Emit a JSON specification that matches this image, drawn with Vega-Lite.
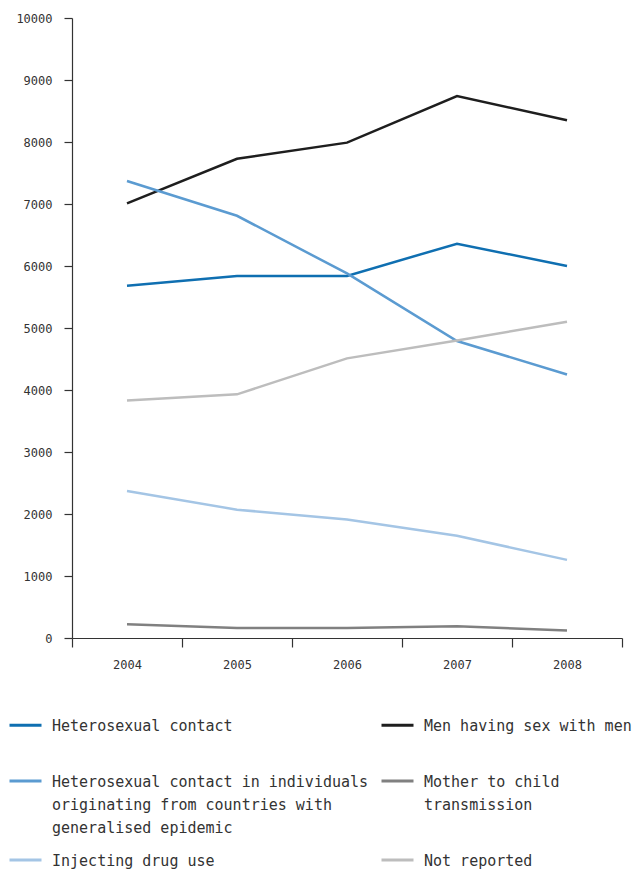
{
  "$schema": "https://vega.github.io/schema/vega-lite/v6.json",
  "width": 550,
  "height": 620,
  "autosize": {"type": "none"},
  "padding": {"left": 72, "top": 18, "right": 20, "bottom": 232},
  "background": "white",
  "config": {
    "view": {"stroke": null},
    "font": "DejaVu Sans Mono",
    "style": {"guide-label": {"lineHeight": 23}}
  },
  "data": {
    "values": [
      {"year": "2004", "category": "Heterosexual contact", "cases": 5680},
      {"year": "2005", "category": "Heterosexual contact", "cases": 5840},
      {"year": "2006", "category": "Heterosexual contact", "cases": 5840},
      {"year": "2007", "category": "Heterosexual contact", "cases": 6360},
      {"year": "2008", "category": "Heterosexual contact", "cases": 6000},
      {"year": "2004", "category": "Men having sex with men", "cases": 7010},
      {"year": "2005", "category": "Men having sex with men", "cases": 7730},
      {"year": "2006", "category": "Men having sex with men", "cases": 7990},
      {"year": "2007", "category": "Men having sex with men", "cases": 8740},
      {"year": "2008", "category": "Men having sex with men", "cases": 8350},
      {"year": "2004", "category": "Heterosexual contact in individuals originating from countries with generalised epidemic", "cases": 7370},
      {"year": "2005", "category": "Heterosexual contact in individuals originating from countries with generalised epidemic", "cases": 6810},
      {"year": "2006", "category": "Heterosexual contact in individuals originating from countries with generalised epidemic", "cases": 5880},
      {"year": "2007", "category": "Heterosexual contact in individuals originating from countries with generalised epidemic", "cases": 4790},
      {"year": "2008", "category": "Heterosexual contact in individuals originating from countries with generalised epidemic", "cases": 4250},
      {"year": "2004", "category": "Mother to child transmission", "cases": 220},
      {"year": "2005", "category": "Mother to child transmission", "cases": 160},
      {"year": "2006", "category": "Mother to child transmission", "cases": 160},
      {"year": "2007", "category": "Mother to child transmission", "cases": 190},
      {"year": "2008", "category": "Mother to child transmission", "cases": 120},
      {"year": "2004", "category": "Injecting drug use", "cases": 2370},
      {"year": "2005", "category": "Injecting drug use", "cases": 2070},
      {"year": "2006", "category": "Injecting drug use", "cases": 1910},
      {"year": "2007", "category": "Injecting drug use", "cases": 1650},
      {"year": "2008", "category": "Injecting drug use", "cases": 1260},
      {"year": "2004", "category": "Not reported", "cases": 3830},
      {"year": "2005", "category": "Not reported", "cases": 3930},
      {"year": "2006", "category": "Not reported", "cases": 4510},
      {"year": "2007", "category": "Not reported", "cases": 4800},
      {"year": "2008", "category": "Not reported", "cases": 5100}
    ]
  },
  "mark": {"type": "line", "strokeWidth": 2.5},
  "encoding": {
    "x": {
      "field": "year",
      "type": "ordinal",
      "bandPosition": 0.5,
      "scale": {"type": "band", "paddingInner": 0, "paddingOuter": 0},
      "axis": {
        "title": null,
        "tickBand": "extent",
        "labelAngle": 0,
        "labelFontSize": 12,
        "labelColor": "#333333",
        "domainColor": "#333333",
        "tickColor": "#333333",
        "tickSize": 9,
        "labelPadding": 12,
        "domainWidth": 1.2,
        "tickWidth": 1.2
      }
    },
    "y": {
      "field": "cases",
      "type": "quantitative",
      "scale": {"domain": [0, 10000], "nice": false},
      "axis": {
        "title": null,
        "values": [0, 1000, 2000, 3000, 4000, 5000, 6000, 7000, 8000, 9000, 10000],
        "format": "d",
        "grid": false,
        "labelFontSize": 12,
        "labelColor": "#333333",
        "domainColor": "#333333",
        "tickColor": "#333333",
        "tickSize": 8,
        "labelPadding": 12,
        "domainWidth": 1.2,
        "tickWidth": 1.2
      }
    },
    "color": {
      "field": "category",
      "type": "nominal",
      "sort": null,
      "scale": {
        "domain": [
          "Heterosexual contact",
          "Men having sex with men",
          "Heterosexual contact in individuals originating from countries with generalised epidemic",
          "Mother to child transmission",
          "Injecting drug use",
          "Not reported"
        ],
        "range": ["#0f6fb1", "#1e1e1e", "#5b9bd1", "#808080", "#a4c5e5", "#bdbdbd"]
      },
      "legend": {
        "title": null,
        "orient": "none",
        "legendX": -64,
        "legendY": 683,
        "direction": "horizontal",
        "columns": 2,
        "symbolType": "M-1,0.4H1",
        "symbolSize": 1024,
        "symbolStrokeWidth": 3,
        "labelFontSize": 15,
        "labelColor": "#333333",
        "labelBaseline": "top",
        "labelOffset": 9,
        "labelLimit": 400,
        "columnPadding": 6,
        "rowPadding": 0,
        "labelExpr": "datum.label == 'Heterosexual contact in individuals originating from countries with generalised epidemic' ? ['Heterosexual contact in individuals', 'originating from countries with', 'generalised epidemic'] : datum.label == 'Mother to child transmission' ? ['Mother to child', 'transmission'] : datum.label == 'Heterosexual contact' || datum.label == 'Men having sex with men' ? [datum.label, ''] : datum.label"
      }
    }
  }
}
